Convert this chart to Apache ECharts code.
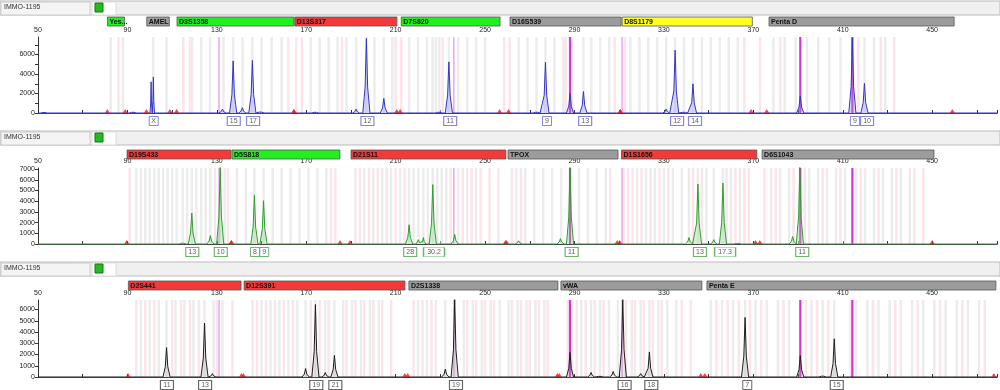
<!DOCTYPE html>
<html><head><meta charset="utf-8">
<script src="https://cdn.jsdelivr.net/npm/echarts@6/dist/echarts.min.js"></script>
<style>html,body{margin:0;padding:0;background:#fff}#c{width:1000px;height:390px}</style>
</head><body><div id="c"></div>
<script>
// ---------------- DATA ----------------
const sampleName = 'IMMO-1195';
const xMin = 50, xMax = 479;

// Panel 1 (blue dye)
const loci1Names  = ['Yes...','AMEL','D3S1358','D13S317','D7S820','D16S539','D8S1179','Penta D'];
const loci1Start  = [81, 98.5, 112, 164.5, 212, 260.5, 310.5, 376];
const loci1End    = [89, 109, 164.5, 210.5, 256.5, 310.5, 369, 459];
const loci1Status = ['pass','gray','pass','fail','pass','gray','warn','gray'];
const peaks1Pos    = [52.7, 92.4, 100.6, 101.6, 132.5, 137.3, 141.4, 145.9, 149.5, 174, 192.3, 196.9, 204.7, 229.3, 233.8, 273, 277, 288, 294, 331, 335, 339, 343, 391, 414.3, 419.7];
const peaks1Height = [150, 200, 3200, 3700, 400, 5350, 550, 5400, 250, 200, 400, 7650, 1500, 200, 5250, 200, 5200, 2000, 2200, 400, 6450, 200, 3000, 1750, 7700, 3050];
const alleles1Pos   = [101.6, 137.3, 145.9, 196.9, 233.8, 277, 294, 335, 343, 414.3, 419.7];
const alleles1Label = ['X','15','17','12','11','9','13','12','14','9','10'];
const bins1Gray = [82.5, 88, 101.5, 107.5, 119, 123, 127, 133, 137.3, 141.5, 145.9, 150, 154.5, 159, 172, 176, 180, 184, 188, 192.3, 196.9, 200.5, 204.7, 208.5, 216, 220, 224, 226.5, 228, 229.5, 233.8, 238, 242, 246, 250, 265, 269, 273, 277, 281, 285, 289, 294, 297.5, 301.5, 305.5, 315, 319, 323, 327, 331, 335, 339, 343, 347, 351, 355, 359, 363, 379, 384, 389, 394, 399, 404, 409, 414.3, 419.7, 424, 429];
const bins1Pink = [86, 115, 118, 162, 165.5, 168, 186, 210, 212.5, 231, 258.5, 261, 286, 308, 312.5, 366, 373, 382, 417, 427, 433];

// Panel 2 (green dye)
const loci2Names  = ['D19S433','D5S818','D21S11','TPOX','D1S1656','D6S1043'];
const loci2Start  = [89.7, 136.5, 189.6, 259.6, 310.2, 372.9];
const loci2End    = [136.5, 185.1, 259.1, 309.1, 371, 450];
const loci2Status = ['fail','pass','fail','gray','fail','gray'];
const peaks2Pos    = [114.7, 118.8, 127.1, 131.5, 146.8, 150.9, 216, 220.2, 222.4, 226.6, 236.4, 265, 283.7, 288, 341.2, 345.2, 352.3, 356.4, 363, 387.6, 390.8];
const peaks2Height = [200, 2900, 780, 7200, 4550, 4050, 1800, 400, 600, 5550, 900, 300, 500, 7200, 600, 5600, 400, 5700, 150, 700, 7200];
const alleles2Pos   = [118.8, 131.5, 146.8, 150.9, 216, 226.6, 288, 345.2, 356.4, 390.8];
const alleles2Label = ['13','10','8','9','28','30.2','11','13','17.3','11'];
const bins2Gray = [94, 96, 98, 100, 102, 104, 106, 108, 110, 112, 114.7, 116.7, 118.8, 120.8, 123, 125, 127.1, 129.2, 131.5, 133.5, 139, 143, 146.8, 150.9, 155, 159, 163, 167, 171, 175, 179, 192, 196, 200, 204, 208, 212, 216, 218, 220.2, 222.4, 224.4, 226.6, 228.6, 230.6, 232.6, 238, 242, 246, 264, 268, 272, 276, 280, 284, 288, 292, 296, 300, 304, 318, 322, 326, 330, 334, 338, 341.2, 345.2, 349, 352.3, 356.4, 360, 364, 378, 382, 386, 390.8, 395, 399, 403, 407, 411, 416, 420, 424, 428, 432, 436, 440];
const bins2Pink = [91, 135, 181, 183, 194, 198, 202, 206, 210, 214, 234.6, 240, 244, 248, 252, 256, 262, 266, 306, 312, 314, 316, 320, 324, 328, 332, 343, 347, 358, 362, 366, 368, 375, 380, 388, 393, 401, 409, 418, 426, 434, 442, 446];

// Panel 3 (black dye)
const loci3Names  = ['D2S441','D12S391','D2S1338','vWA','Penta E'];
const loci3Start  = [90.3, 141.9, 215.4, 283.2, 348.3];
const loci3End    = [141, 214.1, 282.3, 346.5, 477.6];
const loci3Status = ['fail','fail','gray','gray','gray'];
const peaks3Pos    = [107.5, 124.5, 128, 169.7, 174.1, 178.5, 182.6, 232.2, 236.4, 288, 297.4, 301.4, 307.3, 311.6, 319.6, 323.5, 366.3, 391, 401, 406.2];
const peaks3Height = [2620, 4800, 300, 750, 6450, 400, 1930, 700, 6900, 2200, 400, 150, 500, 6900, 300, 2230, 5300, 1900, 200, 3400];
const alleles3Pos   = [107.5, 124.5, 174.1, 182.6, 236.4, 311.6, 323.5, 366.3, 406.2];
const alleles3Label = ['11','13','19','21','19','16','18','7','15'];
const bins3Gray = [96, 100, 104, 107.5, 111.5, 115.5, 119.5, 124.5, 128.5, 132.5, 150, 154, 158, 162, 166, 169.7, 174.1, 178.5, 182.6, 186.5, 190.5, 194.5, 198.5, 202.5, 220, 224, 228, 232.2, 236.4, 240.5, 244.5, 248.5, 252.5, 256.5, 260.5, 264.5, 268.5, 272.5, 276.5, 289, 293, 297.4, 301.4, 305.4, 309.4, 315.6, 319.6, 323.5, 327.5, 331.5, 335.5, 351, 356, 361, 366.3, 371, 376, 381, 386, 396, 401, 406.2, 416, 421, 426, 431, 436, 441, 446, 451, 456, 461, 466, 471];
const bins3Pink = [94, 98, 102, 110, 114, 118, 122, 130, 137, 146, 148, 152, 156, 160, 164, 172, 176, 180, 188, 192, 196, 200, 204, 208, 218, 222, 226, 242, 246, 250, 254, 262, 266, 270, 274, 278, 287, 291, 295, 299, 303, 313, 317, 321, 325, 329, 338, 342, 353.5, 358.5, 363.5, 368.5, 373.5, 383.5, 393.5, 398.5, 403.5, 413.5, 423.5, 433.5, 443.5, 453.5, 463.5, 473.5];

// Spikes visible across all dyes
const spikesPos    = [131, 236, 288, 311.3, 391, 414.3];
const spikesStrong = [0, 0, 1, 0, 1, 1];

// y-axis extents
const yMaxes = [7800, 7100, 6850];

// ---------------- BUILD ----------------
const FONT = 'Liberation Sans, Arial, sans-serif';
const statusColor = {pass:'#22ee22', fail:'#f23a3a', gray:'#9c9c9c', warn:'#ffff22'};
const panels = [
  {names:loci1Names, start:loci1Start, end:loci1End, status:loci1Status, pp:peaks1Pos, ph:peaks1Height, ap:alleles1Pos, al:alleles1Label, bg:bins1Gray, bp:bins1Pink,
   line:'#3434c8', fill:'rgba(150,150,235,0.5)', box:'#6a6acc', yMax:yMaxes[0], labStep:2000,
   head:1, bar:17, top:37, bottom:113},
  {names:loci2Names, start:loci2Start, end:loci2End, status:loci2Status, pp:peaks2Pos, ph:peaks2Height, ap:alleles2Pos, al:alleles2Label, bg:bins2Gray, bp:bins2Pink,
   line:'#2e9e2e', fill:'rgba(140,215,140,0.5)', box:'#4aa04a', yMax:yMaxes[1], labStep:1000,
   head:131, bar:150, top:168, bottom:244},
  {names:loci3Names, start:loci3Start, end:loci3End, status:loci3Status, pp:peaks3Pos, ph:peaks3Height, ap:alleles3Pos, al:alleles3Label, bg:bins3Gray, bp:bins3Pink,
   line:'#1e1e1e', fill:'rgba(170,170,170,0.4)', box:'#444', yMax:yMaxes[2], labStep:1000,
   head:262, bar:281, top:300, bottom:377}
];

function buildTrace(pos, hts) {
  const idx = pos.map((p,i)=>i).sort((a,b)=>pos[a]-pos[b]);
  const pts = [[xMin,0]];
  idx.forEach((i,k)=>{
    const p = pos[i];
    const prev = k>0 ? pos[idx[k-1]] : -1e9, next = k<idx.length-1 ? pos[idx[k+1]] : 1e9;
    const w = Math.min(1.6, (p-prev)/2, (next-p)/2);
    pts.push([p-w,0],[p-w*0.35,hts[i]*0.35],[p,hts[i]],[p+w*0.35,hts[i]*0.35],[p+w,0]);
  });
  pts.push([xMax,0]);
  return pts;
}

const grid=[], xAxis=[], yAxis=[], series=[], graphic=[];
panels.forEach((P, k)=>{
  const g0 = k*3;
  grid.push({left:38, right:0, top:P.bar, height:9});
  grid.push({left:38, right:0, top:P.top, height:P.bottom-P.top});
  grid.push({left:38, right:0, top:P.bottom+3, height:10});

  xAxis.push({gridIndex:g0, type:'value', min:xMin, max:xMax, show:false});
  xAxis.push({gridIndex:g0+1, type:'value', min:xMin, max:xMax, interval:20, position:'top',
    axisLine:{lineStyle:{color:'#333', width:1}}, axisTick:{length:3, lineStyle:{color:'#333'}},
    splitLine:{show:false}, axisLabel:{fontSize:7, fontFamily:FONT, color:'#222', margin:3,
      formatter:v=> ((v-xMin)%40===0 ? String(v) : '')}});
  xAxis.push({gridIndex:g0+1, type:'value', min:xMin, max:xMax, position:'bottom',
    axisLine:{lineStyle:{color:'#444', width:1}}, axisTick:{show:false}, axisLabel:{show:false}, splitLine:{show:false}});
  xAxis.push({gridIndex:g0+2, type:'value', min:xMin, max:xMax, show:false});
  const xb = k*4;

  yAxis.push({gridIndex:g0, type:'value', min:0, max:1, show:false});
  yAxis.push({gridIndex:g0+1, type:'value', min:0, max:P.yMax, interval:1000,
    axisLine:{show:true, lineStyle:{color:'#333'}}, axisTick:{show:true, length:3, lineStyle:{color:'#333'}},
    splitLine:{show:false}, axisLabel:{fontSize:7, fontFamily:FONT, color:'#222', margin:3, showMaxLabel:false,
      formatter:v=> (v%P.labStep===0 ? String(v) : '')}});
  yAxis.push({gridIndex:g0+2, type:'value', min:0, max:1, show:false});

  // Locus bars
  series.push({type:'custom', xAxisIndex:xb, yAxisIndex:g0, silent:true,
    data:P.start.map((s,i)=>[s, P.end[i]]),
    encode:{x:[0,1]},
    renderItem:(params, api)=>{
      const i = params.dataIndex;
      const a = api.coord([api.value(0), 1]), b = api.coord([api.value(1), 0]);
      return {type:'group', children:[
        {type:'rect', shape:{x:a[0], y:a[1], width:b[0]-a[0]-1, height:b[1]-a[1]},
          style:{fill:statusColor[P.status[i]], stroke:'#555', lineWidth:0.8}},
        {type:'text', style:{text:P.names[i], x:a[0]+2, y:(a[1]+b[1])/2+0.5, verticalAlign:'middle',
          font:'bold 7px '+FONT, fill:'#111'}}
      ]};
    }});

  // Bins
  const binData = P.bg.map(p=>[p,0]).concat(P.bp.map(p=>[p,1]));
  series.push({type:'custom', xAxisIndex:xb+1, yAxisIndex:g0+1, silent:true, z:1,
    data:binData, encode:{x:0, y:1},
    renderItem:(params, api)=>{
      const p = api.value(0), kind = api.value(1);
      const a = api.coord([p-0.55, P.yMax]), b = api.coord([p+0.55, 0]);
      return {type:'rect', shape:{x:a[0], y:a[1], width:Math.max(2, b[0]-a[0]), height:b[1]-a[1]},
        style:{fill: kind ? '#fce4e9' : '#ececec'}};
    }});

  // Spikes (magenta)
  series.push({type:'custom', xAxisIndex:xb+1, yAxisIndex:g0+1, silent:true, z:2,
    data:spikesPos.map((p,i)=>[p, spikesStrong[i]]), encode:{x:0, y:1},
    renderItem:(params, api)=>{
      const p = api.value(0), s = api.value(1);
      const a = api.coord([p, P.yMax]), b = api.coord([p, 0]);
      return {type:'line', shape:{x1:a[0], y1:a[1], x2:b[0], y2:b[1]},
        style:{stroke: s ? '#d633d6' : '#eeaaee', lineWidth: s ? 2.2 : 1.6}};
    }});

  // Trace
  series.push({type:'line', xAxisIndex:xb+1, yAxisIndex:g0+1, z:3, silent:true,
    data:buildTrace(P.pp, P.ph), showSymbol:false, symbol:'none',
    lineStyle:{color:P.line, width:1}, areaStyle:{color:P.fill}, animation:false});

  // Locus boundary markers
  const edges = [];
  P.start.forEach((s,i)=>{ edges.push([s,0]); edges.push([P.end[i],0]); });
  series.push({type:'scatter', xAxisIndex:xb+1, yAxisIndex:g0+1, z:4, silent:true,
    data:edges, symbol:'triangle', symbolSize:[5,4], symbolOffset:[0,-2],
    itemStyle:{color:'#e02020'}});

  // Allele labels
  series.push({type:'scatter', xAxisIndex:xb+3, yAxisIndex:g0+2, z:5, silent:true,
    data:P.ap.map((p,i)=>({value:[p,0.5], name:P.al[i]})),
    symbol:'rect', symbolSize:(v,params)=>[P.al[params.dataIndex].length*4+5, 9],
    itemStyle:{color:'#fff', borderColor:P.box, borderWidth:1},
    label:{show:true, position:'inside', formatter:p=>p.name, fontSize:7, fontFamily:FONT, color:'#333'}});

  // Header strip
  graphic.push({type:'rect', shape:{x:0, y:P.head, width:1000, height:14}, style:{fill:'#f0f0f0', stroke:'#bbb', lineWidth:1}, silent:true});
  graphic.push({type:'rect', shape:{x:1, y:P.head+1, width:89, height:13}, style:{fill:'#f4f4f4', stroke:'#ccc', lineWidth:1}, silent:true});
  graphic.push({type:'text', style:{text:sampleName, x:4, y:P.head+6, verticalAlign:'middle', font:'7px '+FONT, fill:'#333'}, silent:true});
  graphic.push({type:'rect', shape:{x:92, y:P.head+1, width:24, height:13}, style:{fill:'#fff', stroke:'#ddd', lineWidth:1}, silent:true});
  graphic.push({type:'rect', shape:{x:95, y:P.head+2, width:8, height:9}, style:{fill:'#22bb22', stroke:'#117711', lineWidth:1}, silent:true});
});

const chart = echarts.init(document.getElementById('c'), null, {renderer:'canvas'});
chart.setOption({animation:false, backgroundColor:'#fff', grid, xAxis, yAxis, series, graphic});
</script></body></html>
